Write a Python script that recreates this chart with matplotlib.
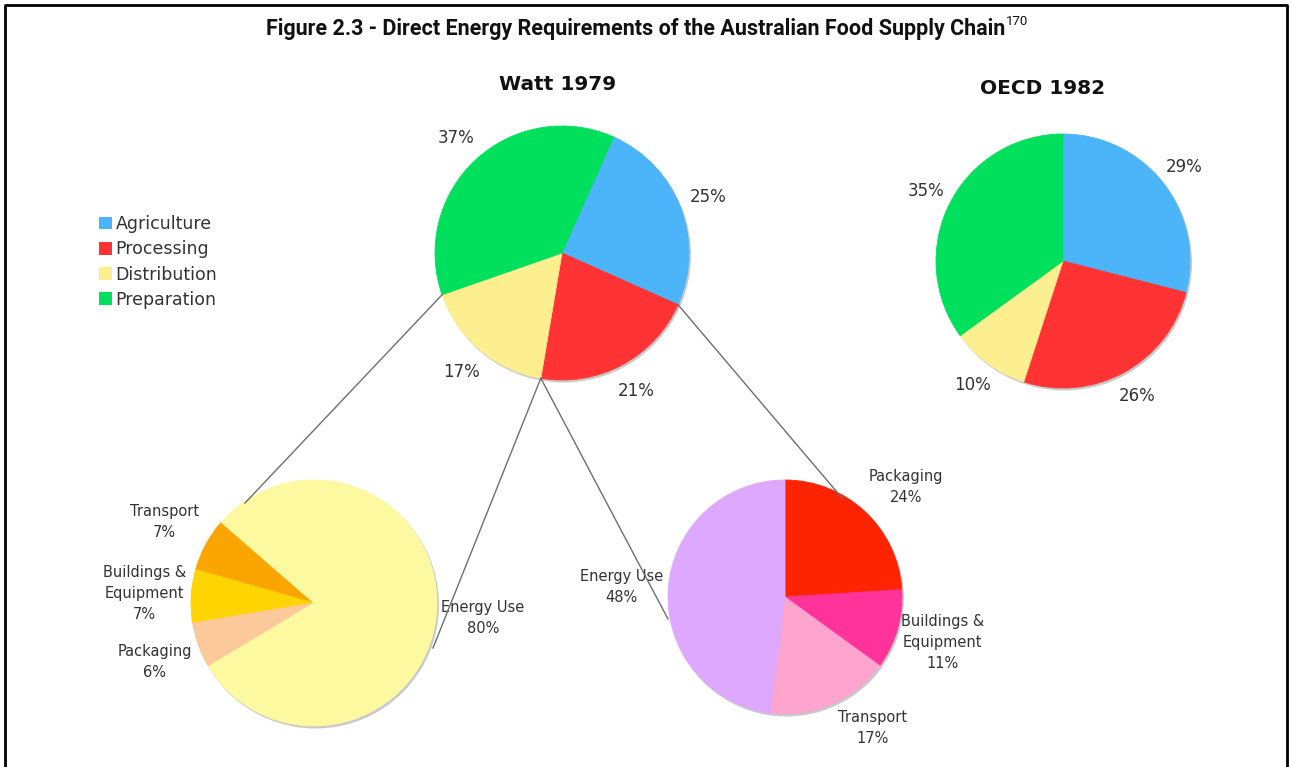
import matplotlib
matplotlib.use("Agg")
import matplotlib.pyplot as plt
from matplotlib.patches import Circle, Patch
import numpy as np

# ---------------- data ----------------
categories = ["Agriculture", "Processing", "Distribution", "Preparation"]
watt_1979 = [25, 21, 17, 37]
oecd_1982 = [29, 26, 10, 35]

dist_parts = ["Transport", "Buildings &\nEquipment", "Packaging", "Energy Use"]
dist_values = [7, 7, 6, 80]

proc_parts = ["Packaging", "Buildings &\nEquipment", "Transport", "Energy Use"]
proc_values = [24, 11, 17, 48]

title_text = "Figure 2.3 - Direct Energy Requirements of the Australian Food Supply Chain"
title_note = "170"
pie_titles = ["Watt 1979", "OECD 1982"]

# ---------------- styles / layout ----------------
main_colors = ["#4cb5f9", "#ff3333", "#fdef90", "#00e05c"]
dist_colors = ["#faa500", "#ffd400", "#fbc99a", "#fdf9a0"]
proc_colors = ["#ff2400", "#ff3399", "#ffa3cf", "#dea8ff"]

W, H = 1292, 767
def Y(y):
    return H - y

fig = plt.figure(figsize=(W / 100, H / 100), dpi=100)
ax = fig.add_axes([0, 0, 1, 1])

txt_color = "#333333"

def shadow(cx, cy, r):
    ax.add_patch(Circle((cx + 1.5, Y(cy) - 2.0), r + 0.5, color="#c9c9c9", zorder=1, lw=0))

def draw_pie(values, colors, cx, cy, r, start, ccw, **kw):
    shadow(cx, cy, r)
    res = ax.pie(values, colors=colors, center=(cx, Y(cy)), radius=r,
                 startangle=start, counterclock=ccw,
                 wedgeprops=dict(linewidth=0.6, zorder=2),
                 frame=True, **kw)
    for w in res[0]:
        w.set_edgecolor(w.get_facecolor())
    return res

pct_props = dict(fontsize=12, color=txt_color, ha="center", va="center")

# Watt 1979
watt_c = (562, 253); watt_r = 127; watt_start = 66
w_wedges, _, _ = draw_pie(watt_1979, main_colors, watt_c[0], watt_c[1], watt_r,
                          watt_start, False, autopct="%.0f%%", pctdistance=1.23,
                          textprops=pct_props)
# OECD 1982
draw_pie(oecd_1982, main_colors, 1063, 261, 127, 90, False,
         autopct="%.0f%%", pctdistance=1.21, textprops=pct_props)

# Distribution breakdown
lab_props = dict(fontsize=10.5, color=txt_color, ha="center", va="center",
                 multialignment="center", linespacing=1.5)
dist_labels = [f"{n}\n{v}%" for n, v in zip(dist_parts, dist_values)]
draw_pie(dist_values, dist_colors, 314, 603, 123, 139, True,
         labels=dist_labels, labeldistance=1.38, textprops=lab_props)

# Processing breakdown
proc_labels = [f"{n}\n{v}%" for n, v in zip(proc_parts, proc_values)]
_, p_texts = draw_pie(proc_values, proc_colors, 785, 597, 117, 90, False,
                      labels=proc_labels, labeldistance=1.40, textprops=lab_props)
# a couple of labels sit slightly off the radial position
p_texts[0].set_position((906, Y(487)))
p_texts[2].set_position((873, Y(728)))

# connector lines from Watt pie boundaries
bounds = np.cumsum([0] + watt_1979) / 100.0 * 360.0  # clockwise degrees from start
def boundary_point(k):
    ang = np.deg2rad(watt_start - bounds[k])
    return (watt_c[0] + watt_r * np.cos(ang), Y(watt_c[1]) + watt_r * np.sin(ang))

conn = [
    (boundary_point(3), (245, Y(503))),   # distribution/preparation -> dist pie
    (boundary_point(2), (433, Y(648))),   # processing/distribution -> dist pie
    (boundary_point(2), (668, Y(619))),   # processing/distribution -> proc pie
    (boundary_point(1), (842, Y(498))),   # agriculture/processing -> proc pie
]
for (x0, y0), (x1, y1) in conn:
    ax.plot([x0, x1], [y0, y1], color="#6e6e6e", lw=1.0, zorder=5)

# pie titles
ax.text(558, Y(85), pie_titles[0], fontsize=14.5, fontweight="bold", ha="center",
        va="center", color="#111111")
ax.text(1043, Y(88), pie_titles[1], fontsize=14.5, fontweight="bold", ha="center",
        va="center", color="#111111")

# legend
handles = [Patch(facecolor=c, edgecolor="none") for c in main_colors]
fig.legend(handles, categories, loc="upper left",
           bbox_to_anchor=(99 / W, 1 - 215 / H), frameon=False,
           fontsize=12.5, handlelength=0.75, handleheight=0.75,
           handletextpad=0.2, labelspacing=0.42, borderpad=0, borderaxespad=0,
           labelcolor=txt_color)

# figure title
t = ax.text(636, Y(29), title_text, fontsize=15.5, fontweight="bold",
            family=["Roboto", "DejaVu Sans"], ha="center", va="center", color="#111111")
ax.annotate(title_note, xy=(1, 0.85), xycoords=t, ha="left", va="center",
            fontsize=9.5, family=["Roboto", "DejaVu Sans"], color="#111111")

# frame lines (left, top, right)
ax.plot([5, 5], [Y(5), 0], color="black", lw=2.0, zorder=10, solid_capstyle="butt")
ax.plot([4, 1288], [Y(5), Y(5)], color="black", lw=2.0, zorder=10, solid_capstyle="butt")
ax.plot([1287, 1287], [Y(5), 0], color="black", lw=2.0, zorder=10, solid_capstyle="butt")

ax.set_xlim(0, W)
ax.set_ylim(0, H)
ax.set_aspect("auto")
ax.axis("off")

fig.savefig("out.png", dpi=100)
